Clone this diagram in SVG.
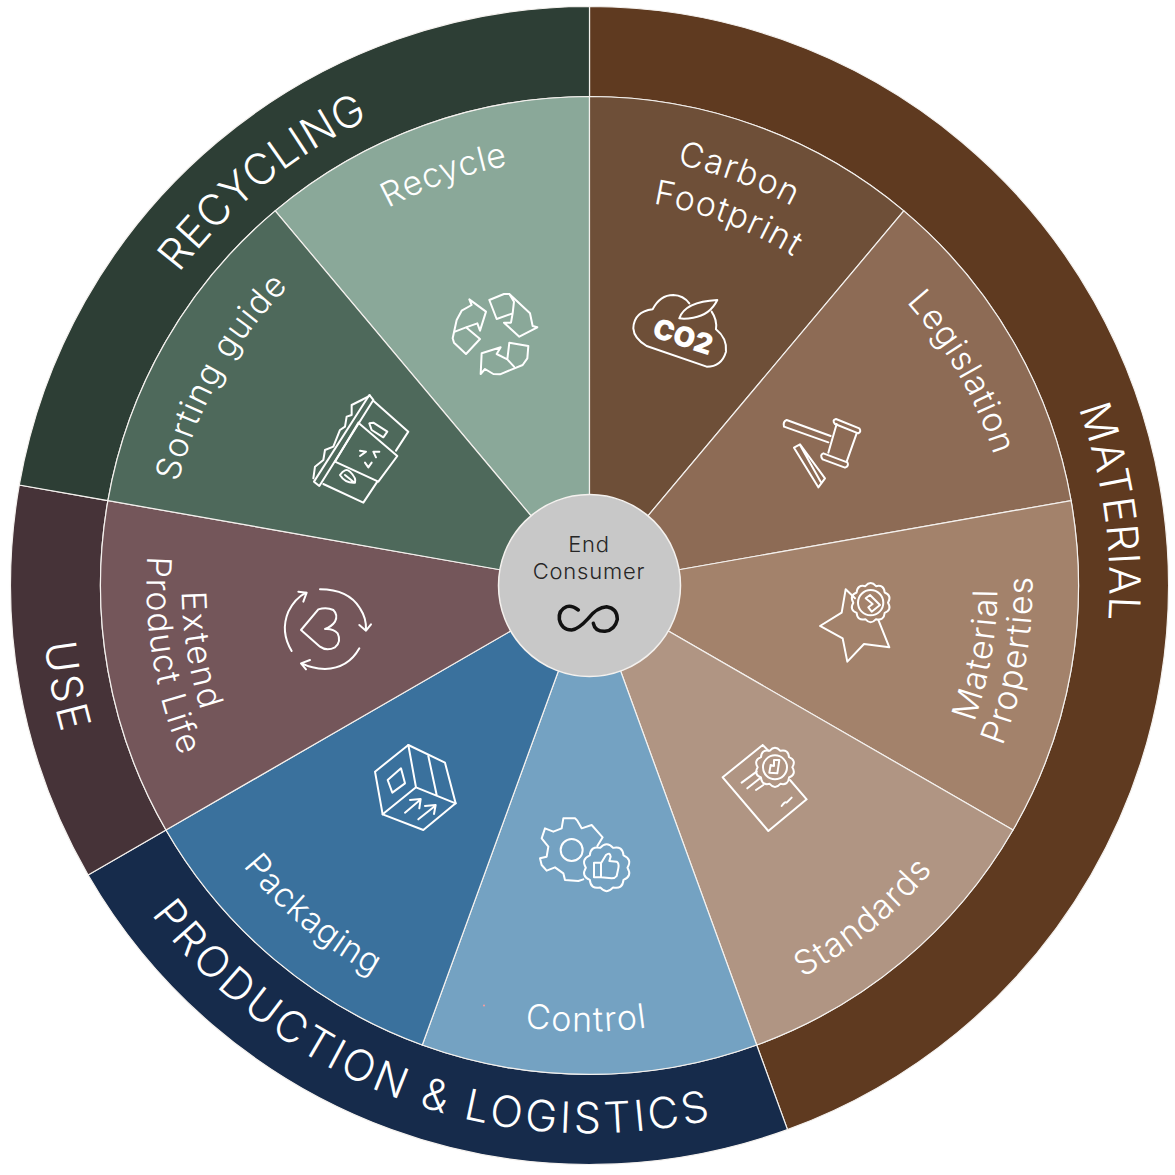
<svg xmlns="http://www.w3.org/2000/svg" width="1175" height="1175" viewBox="0 0 1175 1175">
<style>
.w{stroke:#f4f1ee;stroke-width:1.2}
text{font-family:"Inter","Noto Sans",sans-serif;font-weight:300;fill:#fff;text-anchor:middle}
.l{font-size:34px;letter-spacing:1.3px}
.r{font-size:43px;letter-spacing:3.4px}
.h{font-size:22px;fill:#262626;letter-spacing:.8px}
.ic,.ic *{fill:none;stroke:#fff;stroke-width:2;stroke-linejoin:round;stroke-linecap:round;vector-effect:non-scaling-stroke}
</style>
<defs>
<path id="c520" d="M69.5 585.5A520 520 0 0 1 1109.5 585.5"/>
<path id="c516" d="M73.5 585.5A516 516 0 0 1 1105.5 585.5"/>
<path id="c428" d="M161.5 585.5A428 428 0 0 1 1017.5 585.5"/>
<path id="c430" d="M159.5 585.5A430 430 0 0 1 1019.5 585.5"/>
<path id="c387" d="M202.5 585.5A387 387 0 0 1 976.5 585.5"/>
<path id="c425" d="M164.5 585.5A425 425 0 0 1 1014.5 585.5"/>
<path id="c424" d="M165.5 585.5A424 424 0 0 1 1013.5 585.5"/>
<path id="i548" d="M41.5 585.5A548 548 0 0 0 1137.5 585.5"/>
<path id="i446" d="M143.5 585.5A446 446 0 0 0 1035.5 585.5"/>
<path id="i443" d="M146.5 585.5A443 443 0 0 0 1032.5 585.5"/>
<path id="i408" d="M181.5 585.5A408 408 0 0 0 997.5 585.5"/>
<path id="seal" vector-effect="non-scaling-stroke" d="M52 0Q64.7 21 42.1 30.6Q40 55 16.1 49.5Q0 68 -16.1 49.5Q-40 55 -42.1 30.6Q-64.7 21 -52 0Q-64.7 -21 -42.1 -30.6Q-40 -55 -16.1 -49.5Q0 -68 16.1 -49.5Q40 -55 42.1 -30.6Q64.7 -21 52 0Z"/>
</defs>
<g id="ring">
<path id="ring-material" class="w" fill="#5f3a20" d="M589.5 96.5L589.5 6.5A579 579 0 0 1 787.5 1129.6L756.7 1045A489 489 0 0 0 589.5 96.5Z"/>
<path id="ring-production" class="w" fill="#162b4b" d="M756.7 1045L787.5 1129.6A579 579 0 0 1 88.1 875L166 830A489 489 0 0 0 756.7 1045Z"/>
<path id="ring-use" class="w" fill="#463338" d="M166 830L88.1 875A579 579 0 0 1 19.3 485L107.9 500.6A489 489 0 0 0 166 830Z"/>
<path id="ring-recycling" class="w" fill="#2d3e35" d="M107.9 500.6L19.3 485A579 579 0 0 1 589.5 6.5L589.5 96.5A489 489 0 0 0 107.9 500.6Z"/>
<g transform="rotate(82 589.5 585.5)"><text class="r" style="letter-spacing:1px"><textPath href="#c520" startOffset="50%">MATERIAL</textPath></text></g>
<g transform="rotate(-39 589.5 585.5)"><text class="r" style="letter-spacing:.5px"><textPath href="#c516" startOffset="50%">RECYCLING</textPath></text></g>
<g transform="rotate(79 589.5 585.5)"><text class="r"><textPath href="#i548" startOffset="50%">USE</textPath></text></g>
<g transform="rotate(20 589.5 585.5)"><text class="r"><textPath href="#i548" startOffset="50%">PRODUCTION &amp; LOGISTICS</textPath></text></g>
</g>
<g id="recycle">
<path class="w" fill="#8aa899" d="M589.5 585.5L275.2 210.9A489 489 0 0 1 589.5 96.5Z"/>
<g transform="rotate(-19.500 589.5 585.5)"><text class="l" style="letter-spacing:.6px"><textPath href="#c428" startOffset="50%">Recycle</textPath></text></g>
<g class="ic" transform="translate(430 270) scale(.3333)">
<path d="M178 90L222 72L238 72L300 130L308 168L322 172L268 200L222 158L243 158L248 130L200 147ZM238 72L252 95L248 130"/>
<path d="M118 88L168 125L150 182L142 160L108 172L150 207L108 252L72 218L68 205L80 150L95 122L125 105ZM75 185L108 172"/>
<path d="M152 312L155 250L212 232L200 252L232 268L238 218L295 228L292 265L278 285L210 313L190 312L165 297ZM232 268L252 290"/>
</g>
</g>
<g id="carbon-footprint">
<path class="w" fill="#6e4f38" d="M589.5 585.5L589.5 96.5A489 489 0 0 1 903.8 210.9Z"/>
<g transform="rotate(20 589.5 585.5)"><text class="l"><textPath href="#c430" startOffset="50%">Carbon</textPath></text></g>
<g transform="rotate(20.700 589.5 585.5)"><text class="l"><textPath href="#c387" startOffset="50%">Footprint</textPath></text></g>
<g class="ic" transform="translate(430 270) scale(.3333)">
<path d="M650 228Q612 205 610 175Q612 125 668 118Q690 75 730 75Q760 76 778 100M845 125Q862 150 858 178Q892 205 888 245Q875 290 830 290L650 228"/>
<path d="M748 145Q765 95 862 90Q840 135 790 143Q765 148 748 145Z"/>
</g>
<text transform="translate(680 346) rotate(18)" style="font-size:28px;font-weight:900">CO2</text>
</g>
<g id="legislation">
<path class="w" fill="#8d6b55" d="M589.5 585.5L903.8 210.9A489 489 0 0 1 1071.1 500.6Z"/>
<g transform="rotate(60.200 589.5 585.5)"><text class="l" style="letter-spacing:.8px"><textPath href="#c425" startOffset="50%">Legislation</textPath></text></g>
<g class="ic" transform="translate(760 400) scale(.3333)">
<path d="M212 108L80 60Q68 65 72 80L205 127"/>
<path d="M230 72L205 158M290 100L260 185"/>
<path d="M228 57L298 85Q305 95 295 100L225 72Q215 60 228 57Z"/>
<path d="M190 160L262 187Q268 198 255 203L188 178Q178 165 190 160Z"/>
<path d="M102 143L120 133L195 235L175 262ZM120 135L182 245"/>
</g>
</g>
<g id="material-properties">
<path class="w" fill="#a3826b" d="M589.5 585.5L1071.1 500.6A489 489 0 0 1 1013 830Z"/>
<g transform="rotate(-80 589.5 585.5)"><text class="l"><textPath href="#i408" startOffset="50%">Material</textPath></text><text class="l"><textPath href="#i443" startOffset="50%">Properties</textPath></text></g>
<g class="ic" transform="translate(800 570) scale(.3333)">
<path d="M235 150L268 232L192 222L142 275L128 205L60 168L125 128L137 58L165 85"/>
<use href="#seal" transform="translate(212 98)"/>
<circle cx="212" cy="98" r="38"/>
<path d="M197 85L210 75L240 105L215 125L205 112L218 102Z"/>
</g>
</g>
<g id="standards">
<path class="w" fill="#b09583" d="M589.5 585.5L1013 830A489 489 0 0 1 756.7 1045Z"/>
<g transform="rotate(-39.500 589.5 585.5)"><text class="l"><textPath href="#i446" startOffset="50%">Standards</textPath></text></g>
<g class="ic" transform="translate(700 730) scale(.3333)">
<path d="M188 45L68 142L205 303L320 208L270 150M188 45L205 62"/>
<use href="#seal" transform="translate(225 112)"/>
<circle cx="225" cy="112" r="36"/>
<path d="M222 90L238 90L232 130L208 128L212 105L222 108Z"/>
<path d="M125 158L170 125M142 175L180 145M168 180L190 165"/>
<path d="M245 228Q255 213 260 218Q265 213 275 203"/>
</g>
</g>
<g id="control">
<path class="w" fill="#74a2c2" d="M589.5 585.5L756.7 1045A489 489 0 0 1 422.3 1045Z"/>
<g transform="translate(-3 0)"><text class="l"><textPath href="#i446" startOffset="50%">Control</textPath></text></g>
<circle cx="484" cy="1005.500" r="1" fill="#ff9a9a"/>
<g class="ic" transform="translate(520 800) scale(.3333)">
<path d="M232 138L248 112L215 75L185 85L172 62L165 55L130 55L125 85L100 95L75 85L65 115L85 140L80 170L60 175L65 195L80 212L105 202L130 220L135 240L175 243L190 238"/>
<circle cx="155" cy="150" r="33"/>
<use href="#seal" transform="translate(260 203) scale(1.2)"/>
<path d="M222 188L243 188L243 232L222 232ZM243 190L258 165Q270 155 272 170L268 183L290 185Q298 190 295 205L290 228Q285 235 275 235L243 232"/>
</g>
</g>
<g id="packaging">
<path class="w" fill="#3a719d" d="M589.5 585.5L422.3 1045A489 489 0 0 1 166 830Z"/>
<g transform="rotate(40 589.5 585.5)"><text class="l" style="letter-spacing:.8px"><textPath href="#i446" startOffset="50%">Packaging</textPath></text></g>
<g class="ic" transform="translate(360 730) scale(.3333)">
<path d="M145 45L255 98L287 220L190 300L68 253L45 125Z"/>
<path d="M145 45L168 172L287 220M168 172L68 253M205 78L230 195"/>
<path d="M83 150L123 115L135 160L97 188Z"/>
<path d="M135 248L180 210M150 210L182 207L178 235M175 268L225 228M195 228L227 225L222 252"/>
</g>
</g>
<g id="extend-product-life">
<path class="w" fill="#74565a" d="M589.5 585.5L166 830A489 489 0 0 1 107.900 500.6Z"/>
<g transform="rotate(80.500 589.5 585.5)"><text class="l" style="letter-spacing:2.400px"><textPath href="#i408" startOffset="50%">Extend</textPath></text><text class="l"><textPath href="#i443" startOffset="50%">Product Life</textPath></text></g>
<g class="ic" transform="translate(270 570) scale(.3333)">
<path d="M65 243Q30 185 55 125Q75 85 108 68M85 65L110 68L100 95"/>
<path d="M150 58Q235 58 270 115Q290 145 288 180M268 165L288 182L303 163"/>
<path d="M268 235Q235 295 165 297Q125 295 95 280M120 270L93 280L108 298"/>
<path d="M93 180L145 118Q170 110 190 120Q205 135 195 155Q185 170 165 177Q190 175 203 190Q215 215 195 232Q170 245 150 230Z"/>
</g>
</g>
<g id="sorting-guide">
<path class="w" fill="#4e695b" d="M589.5 585.5L107.9 500.6A489 489 0 0 1 275.2 210.9Z"/>
<g transform="rotate(-60.500 589.5 585.5)"><text class="l"><textPath href="#c424" startOffset="50%">Sorting guide</textPath></text></g>
<g class="ic" transform="translate(290 380) scale(.3333)">
<path d="M72 305L88 318L250 60L238 45Z"/>
<path d="M70 295L75 260L100 240L105 210L130 200L150 150L165 140L170 110L185 105L185 75L215 60L240 47"/>
<path d="M250 62L355 155L318 212M205 128L322 228L265 305L135 245L205 128M100 312L220 368L262 305"/>
<path d="M238 130L250 128L292 155L280 172L245 150Z"/>
<path d="M210 212L228 215L210 228M268 215L250 215L258 232M225 248L235 262L245 248"/>
<path d="M150 285Q165 262 180 275Q200 295 195 308Q165 310 150 285ZM165 285L190 305"/>
</g>
</g>
<g id="end-consumer">
<circle cx="589.500" cy="585.500" r="91" fill="#c8c8c8" stroke="#f4f1ee" stroke-width="1.500"/>
<text class="h" x="589" y="552">End</text>
<text class="h" x="589" y="579">Consumer</text>
<path transform="translate(500 490) scale(.3333)" d="M235 360Q215 345 200 350Q175 360 178 388Q185 420 215 420Q235 418 265 385Q290 352 320 350Q352 355 352 388Q345 420 315 424Q285 425 280 400" fill="none" stroke="#111" stroke-width="3.500" stroke-linecap="round" vector-effect="non-scaling-stroke"/>
</g>
<g id="connectors"></g>
</svg>
